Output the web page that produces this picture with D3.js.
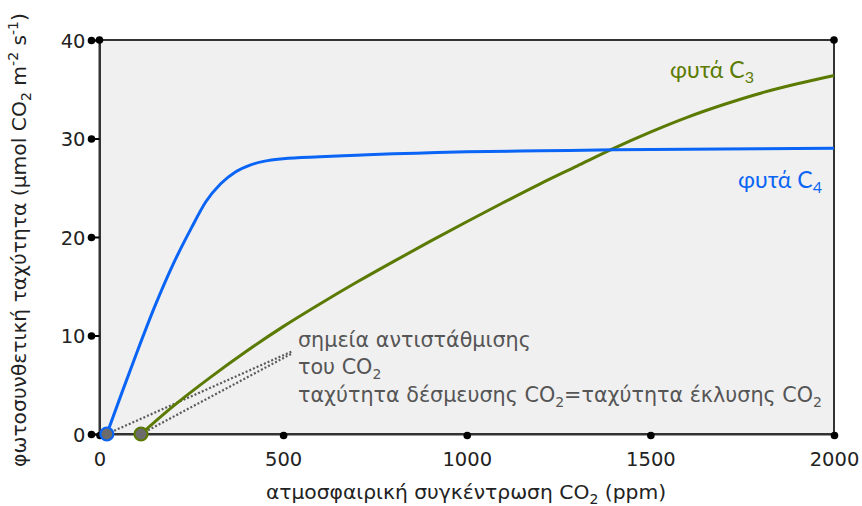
<!DOCTYPE html>
<html><head><meta charset="utf-8">
<script src="https://cdn.jsdelivr.net/npm/d3@7"></script>
<style>
body{margin:0;background:#fff;}
svg{display:block;font-family:"DejaVu Sans",Verdana,sans-serif;}
</style></head>
<body><svg id="c" width="862" height="506"></svg>
<script>
// ---- data ----
const xTicks = [0, 500, 1000, 1500, 2000];
const yTicks = [0, 10, 20, 30, 40];
const c4X = [20, 60, 100, 150, 200, 250, 290, 330, 370, 410, 450, 500, 600, 700, 800, 900, 1000, 1200, 1400, 1600, 1800, 2000];
const c4Y = [0, 4.1, 8.1, 12.9, 17.2, 20.9, 23.6, 25.4, 26.6, 27.3, 27.7, 27.95, 28.15, 28.3, 28.45, 28.55, 28.65, 28.75, 28.85, 28.9, 28.95, 29.0];
const c3X = [113, 200, 300, 400, 500, 600, 700, 800, 900, 1000, 1100, 1200, 1300, 1400, 1500, 1600, 1700, 1800, 1900, 2000];
const c3Y = [0, 2.8, 5.7, 8.4, 10.9, 13.2, 15.4, 17.5, 19.55, 21.55, 23.5, 25.4, 27.2, 29.0, 30.65, 32.15, 33.45, 34.6, 35.55, 36.4];
const compX = [20, 113];          // CO2 compensation points
const compY = [0, 0];
const pointerX = [525];           // annotation pointer end (data units)
const pointerY = [8.4];
const seriesNames = ["φυτά C", "φυτά C"];
const seriesSubs = ["3", "4"];
const annotLines = ["σημεία αντιστάθμισης", "του CO", "ταχύτητα δέσμευσης CO"];

const C4 = "#0a64f5", C3 = "#5b7a02", GREY = "#5a5a5a", AX = "#333";

const svg = d3.select("#c");
const m = {l: 99.5, r: 834, t: 40, b: 434};
const x = d3.scaleLinear().domain([0, 2000]).range([m.l, m.r]);
const y = d3.scaleLinear().domain([0, 40]).range([m.b, m.t]);

// plot background
svg.append("rect").attr("x", x(0)).attr("y", y(40)).attr("width", x(2000) - x(0)).attr("height", y(0) - y(40))
  .attr("fill", "#f0f0f0").attr("stroke", AX).attr("stroke-width", 2);

// y axis
const yAx = svg.append("g").attr("transform", `translate(${x(0)},0)`)
  .call(d3.axisLeft(y).tickValues(yTicks).tickSize(8).tickPadding(6).tickFormat(d3.format("d")));
yAx.select(".domain").attr("stroke", AX).attr("stroke-width", 2);
yAx.selectAll(".tick line").attr("stroke", "#000").attr("stroke-width", 2);
yAx.selectAll(".tick").append("circle").attr("cx", -8).attr("r", 3.8).attr("fill", "#000");
yAx.selectAll(".tick text").attr("font-size", 19.5).attr("fill", "#222").attr("font-family", "DejaVu Sans").attr("dy", "0.36em");

// x axis
const xAx = svg.append("g").attr("transform", `translate(0,${y(0)})`)
  .call(d3.axisBottom(x).tickValues(xTicks).tickSize(3).tickPadding(15).tickFormat(d3.format("d")));
xAx.select(".domain").attr("stroke", AX).attr("stroke-width", 2);
xAx.selectAll(".tick line").attr("stroke", "#000").attr("stroke-width", 2);
xAx.selectAll(".tick").append("circle").attr("cy", 1.5).attr("r", 3.8).attr("fill", "#000");
xAx.selectAll(".tick text").attr("font-size", 19.5).attr("fill", "#222").attr("font-family", "DejaVu Sans");

// corner dots
svg.append("circle").attr("cx", x(0)).attr("cy", y(40)).attr("r", 3.8).attr("fill", "#000");
svg.append("circle").attr("cx", x(2000)).attr("cy", y(40)).attr("r", 3.8).attr("fill", "#000");

// dotted pointer lines
const dotted = svg.append("g");
compX.forEach((cx, i) => {
  dotted.append("line").attr("x1", x(cx)).attr("y1", y(compY[i]))
    .attr("x2", x(pointerX[0])).attr("y2", y(pointerY[0]) + (i === 0 ? 0 : 2))
    .attr("stroke", GREY).attr("stroke-width", 2.2).attr("stroke-dasharray", "2,2");
});

// curves
const line = d3.line().curve(d3.curveMonotoneX);
const c4pts = c4X.map((v, i) => [x(v), y(c4Y[i])]);
const c3pts = c3X.map((v, i) => [x(v), y(c3Y[i])]);
svg.append("path").attr("d", line(c3pts)).attr("fill", "none").attr("stroke", C3).attr("stroke-width", 3);
svg.append("path").attr("d", line(c4pts)).attr("fill", "none").attr("stroke", C4).attr("stroke-width", 3);

// compensation points
const pcol = [C4, C3];
compX.forEach((cx, i) => {
  svg.append("circle").attr("cx", x(cx)).attr("cy", y(compY[i])).attr("r", 6.5)
    .attr("fill", "#6b6b6b").attr("stroke", pcol[i]).attr("stroke-width", 2.2);
});

// series labels
function subText(g, txt, sub, xx, yy, col, fs, fam) {
  const t = g.append("text").attr("x", xx).attr("y", yy).attr("fill", col).attr("font-size", fs).attr("font-family", fam);
  t.append("tspan").text(txt);
  t.append("tspan").attr("font-size", fs * 0.7).attr("dy", fs * 0.22).text(sub);
  return t;
}
subText(svg, seriesNames[0], seriesSubs[0], 670, 78, C3, 23, "Lato");
subText(svg, seriesNames[1], seriesSubs[1], 738, 188, C4, 23, "Lato");

// annotation
const an = svg.append("g").attr("fill", "#555").attr("font-size", 20.7);
an.append("text").attr("x", 298).attr("y", 347).text(annotLines[0]);
const t2 = an.append("text").attr("x", 298).attr("y", 374);
t2.append("tspan").text(annotLines[1]);
t2.append("tspan").attr("font-size", 14).attr("dy", 5).text("2");
const t3 = an.append("text").attr("x", 298).attr("y", 402);
t3.append("tspan").text(annotLines[2]);
t3.append("tspan").attr("font-size", 14).attr("dy", 5).text("2");
t3.append("tspan").attr("dy", -5).text("=ταχύτητα έκλυσης CO");
t3.append("tspan").attr("font-size", 14).attr("dy", 5).text("2");

// x title
const xt = svg.append("text").attr("x", 466).attr("y", 499).attr("text-anchor", "middle").attr("font-size", 20.3).attr("fill", "#222");
xt.append("tspan").text("ατμοσφαιρική συγκέντρωση CO");
xt.append("tspan").attr("font-size", 14).attr("dy", 5).text("2");
xt.append("tspan").attr("dy", -5).text(" (ppm)");

// y title
const yt = svg.append("text").attr("transform", "translate(26,240) rotate(-90)").attr("text-anchor", "middle").attr("font-size", 20.3).attr("fill", "#222");
yt.append("tspan").text("φωτοσυνθετική ταχύτητα (μmol CO");
yt.append("tspan").attr("font-size", 14).attr("dy", 5).text("2");
yt.append("tspan").attr("dy", -5).text(" m");
yt.append("tspan").attr("font-size", 14).attr("dy", -8).text("-2");
yt.append("tspan").attr("dy", 8).text(" s");
yt.append("tspan").attr("font-size", 14).attr("dy", -8).text("-1");
yt.append("tspan").attr("dy", 8).text(")");
</script></body></html>
